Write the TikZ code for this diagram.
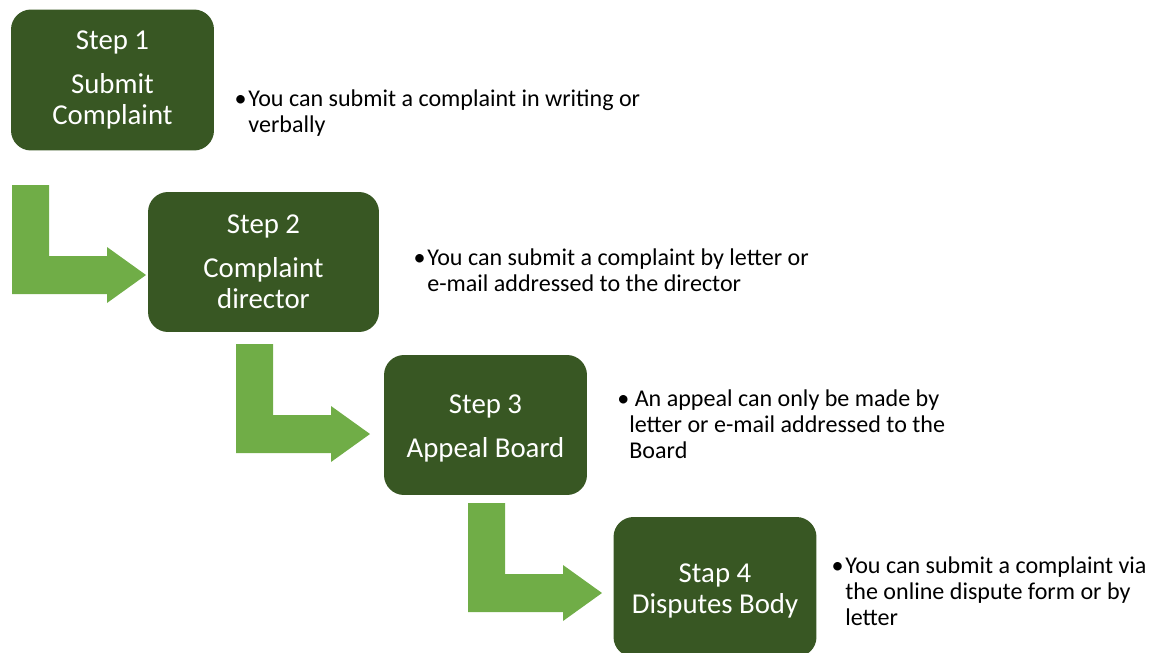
\documentclass[tikz,border=0pt]{standalone}
\usepackage{fontspec}
\setmainfont{Carlito}
\definecolor{boxgreen}{HTML}{385723}
\definecolor{arrowgreen}{HTML}{70AD47}
\tikzset{
  stepbox/.style={fill=boxgreen,text=white,rounded corners=0.4cm,align=center,inner sep=0pt,
    minimum width=4.06cm,minimum height=2.8cm,font=\fontsize{16.4}{17.6}\selectfont},
  note/.style={anchor=west,align=left,inner sep=0pt,font=\fontsize{13.7}{14.9}\selectfont},
  steparrow/.pic={\fill[arrowgreen] (0,0) -- (37,0) -- (37,71) -- (95,71) -- (95,62) -- (134,90)
    -- (95,118) -- (95,109) -- (0,109) -- cycle;}
}
\begin{document}
\begin{tikzpicture}[x=0.02cm,y=-0.02cm]
        \useasboundingbox (0,0) rectangle (1154,653);
        \node[stepbox,minimum height=2.82cm] (step1) at (112.5,80) {Step 1\\[0.26cm]Submit\\Complaint};
        \node[stepbox,minimum width=4.62cm] (step2) at (263.5,262) {Step 2\\[0.26cm]Complaint\\director};
        \node[stepbox] (step3) at (485.5,425) {\rule{0pt}{0.52cm}Step 3\\[0.26cm]Appeal Board};
        \node[stepbox] (step4) at (715,587) {\rule{0pt}{0.52cm}Stap 4\\Disputes Body};
        \pic at (12,185) {steparrow};
        \pic at (236,344) {steparrow};
        \pic at (468,503) {steparrow};
        \node[note] (note1) at (248,113) {\llap{\textbullet\hspace{1pt}}You can submit a complaint in writing or\\verbally};
        \node[note] (note2) at (427,270.5) {\llap{\textbullet\hspace{1pt}}You can submit a complaint by letter or\\e-mail addressed to the director};
        \node[note] (note3) at (629,424.5) {\llap{\textbullet}\ An appeal can only be made by\\letter or e-mail addressed to the\\Board};
        \node[note] (note4) at (845,591) {\llap{\textbullet\hspace{1pt}}You can submit a complaint via\\the online dispute form or by\\letter};
      \end{tikzpicture}
\end{document}
